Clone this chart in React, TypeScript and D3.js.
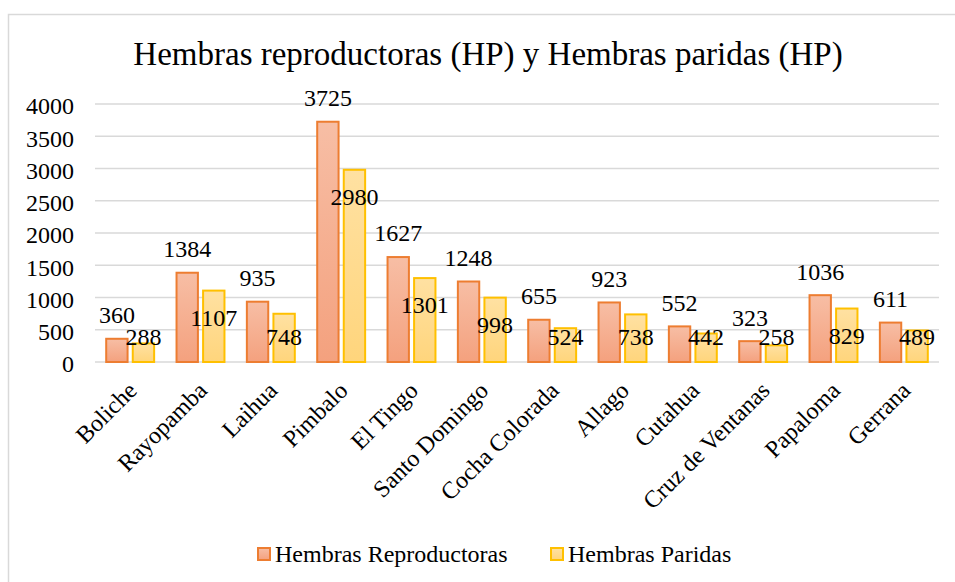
import * as d3 from 'd3';
import React from 'react';

// values
const sites = ['Boliche', 'Rayopamba', 'Laihua', 'Pimbalo', 'El Tingo', 'Santo Domingo', 'Cocha Colorada', 'Allago', 'Cutahua', 'Cruz de Ventanas', 'Papaloma', 'Gerrana'];
const reproductoras = [360, 1384, 935, 3725, 1627, 1248, 655, 923, 552, 323, 1036, 611];
const paridas = [288, 1107, 748, 2980, 1301, 998, 524, 738, 442, 258, 829, 489];
const seriesNames = ['Hembras Reproductoras', 'Hembras Paridas'];
const yTicks = [0, 500, 1000, 1500, 2000, 2500, 3000, 3500, 4000];

const W = 955;
const H = 582;
const font = '"Liberation Serif", "Times New Roman", serif';

export default function App() {
    const x = d3.scaleBand<string>().domain(sites).range([95, 939]).paddingInner(0.29).paddingOuter(0.145);
    const xs = d3.scaleBand<string>().domain(seriesNames).range([0, x.bandwidth()]).paddingInner(0.12);
    const y = d3.scaleLinear().domain([0, 4000]).range([362, 104]);

    const series = [
        { name: seriesNames[0], values: reproductoras, stroke: '#ed7d31', grad: 'gOrange' },
        { name: seriesNames[1], values: paridas, stroke: '#ffc000', grad: 'gYellow' },
    ];

    return (
        <svg width={W} height={H} style={{ position: 'absolute', left: 0, top: 0, background: '#fff' }} fontFamily={font}>
            <defs>
                <linearGradient id="gOrange" x1="0" y1="0" x2="0" y2="1">
                    <stop offset="0" stopColor="#f7bea5" />
                    <stop offset="1" stopColor="#f4a17e" />
                </linearGradient>
                <linearGradient id="gYellow" x1="0" y1="0" x2="0" y2="1">
                    <stop offset="0" stopColor="#ffe1a2" />
                    <stop offset="1" stopColor="#ffd57c" />
                </linearGradient>
            </defs>
            <rect x={8.5} y={14.5} width={980} height={600} fill="#fff" stroke="#d9d9d9" strokeWidth={1.5} />

            <text x={488} y={65} textAnchor="middle" fontSize={33} fill="#000">
                Hembras reproductoras (HP) y Hembras paridas (HP)
            </text>

            {/* gridlines + y labels */}
            {yTicks.map((t) => (
                <g key={t}>
                    <line x1={95} x2={939} y1={y(t)} y2={y(t)} stroke="#d9d9d9" strokeWidth={1.5} />
                    <text x={74} y={y(t) + 2} dy="0.35em" textAnchor="end" fontSize={24} fill="#000">{t}</text>
                </g>
            ))}

            {/* bars */}
            {series.map((s) => (
                <g key={s.name}>
                    {s.values.map((v, i) => {
                        const bx = (x(sites[i]) ?? 0) + (xs(s.name) ?? 0);
                        return (
                            <rect key={i} x={bx + 1} y={y(v)} width={xs.bandwidth() - 2} height={y(0) - y(v)}
                                fill={`url(#${s.grad})`} stroke={s.stroke} strokeWidth={2} />
                        );
                    })}
                </g>
            ))}

            {/* value labels */}
            {series.map((s, si) => (
                <g key={s.name + 'lbl'}>
                    {s.values.map((v, i) => {
                        const cx = (x(sites[i]) ?? 0) + (xs(s.name) ?? 0) + xs.bandwidth() / 2;
                        const cy = si === 0 ? y(v) - 24 : Math.min(y(v) + 27, 337);
                        return (
                            <text key={i} x={cx} y={cy} dy="0.35em" textAnchor="middle" fontSize={24} fill="#000">{v}</text>
                        );
                    })}
                </g>
            ))}

            {/* category labels */}
            {sites.map((c) => {
                const cx = (x(c) ?? 0) + x.bandwidth() / 2;
                return (
                    <text key={c} transform={`translate(${cx + 8},${392}) rotate(-45)`} textAnchor="end" fontSize={24} fill="#000">{c}</text>
                );
            })}

            {/* legend */}
            <g>
                <rect x={258} y={548} width={12} height={12} fill="url(#gOrange)" stroke="#ed7d31" strokeWidth={2} />
                <text x={275} y={562} fontSize={24} fill="#000">{seriesNames[0]}</text>
                <rect x={551} y={548} width={12} height={12} fill="url(#gYellow)" stroke="#ffc000" strokeWidth={2} />
                <text x={568} y={562} fontSize={24} fill="#000">{seriesNames[1]}</text>
            </g>
        </svg>
    );
}
